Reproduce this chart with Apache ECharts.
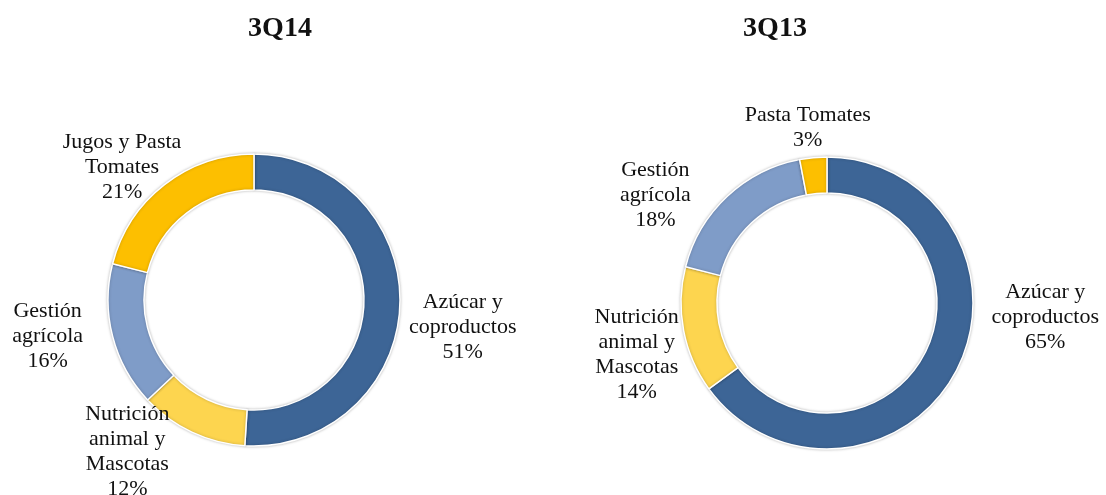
<!DOCTYPE html>
<html>
<head>
<meta charset="utf-8">
<script src="https://cdn.jsdelivr.net/npm/echarts@6/dist/echarts.min.js"></script>
<style>
  html, body { margin: 0; padding: 0; background: #fff; }
  #chart { width: 1106px; height: 495px; }
</style>
</head>
<body>
<div id="chart"></div>
<script>
// datos
const titles = ['3Q14', '3Q13']
const categories14 = ['Azúcar y\ncoproductos', 'Nutrición\nanimal y\nMascotas', 'Gestión\nagrícola', 'Jugos y Pasta\nTomates']
const values14 = [51, 12, 16, 21]
const categories13 = ['Azúcar y\ncoproductos', 'Nutrición\nanimal y\nMascotas', 'Gestión\nagrícola', 'Pasta Tomates']
const values13 = [65, 14, 18, 3]

const colors = ['#3d6596', '#fdd54f', '#7f9cc8', '#fdbf00']

// pequeños ajustes de las etiquetas (como en el original de Excel)
const nudge = [
    [[-11, 22], [-11, 6], [-10, -4], [31, -6]],
    [[16, -59], [15, 22], [-21, 10], [64, -15]]
]

const chart = echarts.init(document.getElementById('chart'))

function labelText(p) {
    const lines = p.name.split('\n')
    lines.push(p.value + '%')
    return lines.map(l => '{c|' + l + '}').join('\n')
}

function makePie(idx, center, names, values) {
    return {
        type: 'pie',
        center: center,
        radius: [110, 146],
        startAngle: 90,
        avoidLabelOverlap: false,
        silent: true,
        itemStyle: {
            borderColor: '#fff',
            borderWidth: 1.5,
            shadowBlur: 3,
            shadowColor: 'rgba(0,0,0,0.25)'
        },
        label: {
            show: true,
            position: 'outside',
            formatter: labelText,
            rich: {
                c: {
                    align: 'center',
                    fontFamily: 'Liberation Serif',
                    fontSize: 22,
                    lineHeight: 25,
                    color: '#111'
                }
            }
        },
        labelLine: { show: false, length: 15, length2: 0 },
        labelLayout: function (params) {
            const n = nudge[idx][params.dataIndex]
            return { dx: n[0], dy: n[1] }
        },
        data: names.map((name, i) => ({
            name: name,
            value: values[i],
            itemStyle: { color: colors[i] }
        }))
    }
}

const titleStyle = { fontFamily: 'Liberation Serif', fontWeight: 'bold', fontSize: 28, color: '#111' }

chart.setOption({
    animation: false,
    title: [
        { text: titles[0], left: 275, top: 10, textAlign: 'center', textStyle: titleStyle },
        { text: titles[1], left: 770, top: 10, textAlign: 'center', textStyle: titleStyle }
    ],
    series: [
        makePie(0, [254, 300], categories14, values14),
        makePie(1, [827, 303], categories13, values13)
    ]
})
</script>
</body>
</html>
